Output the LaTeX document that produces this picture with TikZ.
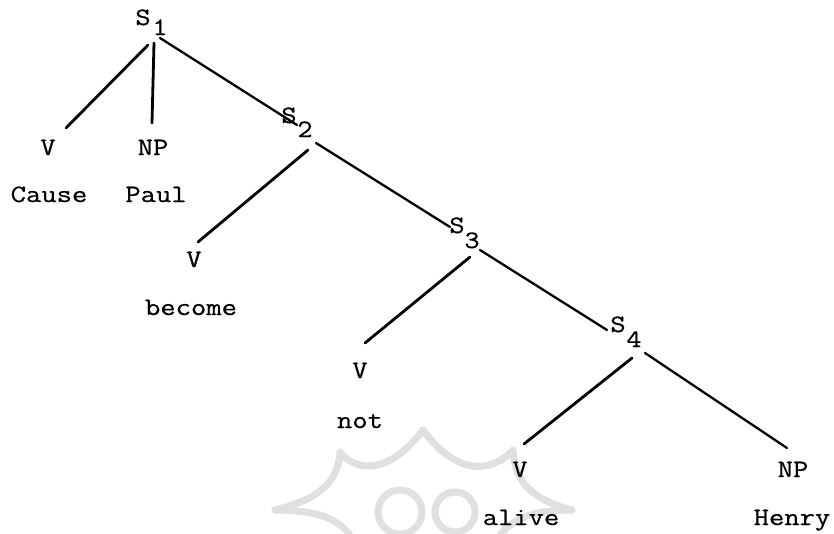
\documentclass[tikz,border=0pt]{standalone}
\usepackage{fontspec}
\newfontfamily\tw{Latin Modern Mono}[FakeStretch=1.19,FakeBold=0.6]
\begin{document}
\begin{tikzpicture}[x=1pt,y=-1pt,
  lab/.style={anchor=base,inner sep=0pt,font=\tw\fontsize{25}{25}\selectfont},
  edge/.style={line width=2.8pt,line cap=round},
  redge/.style={line width=2.3pt,line cap=round},
  wm/.style={draw=black!12,line width=7pt,line cap=round}]
\useasboundingbox[fill=white] (0,0) rectangle (834,533);
% faint watermark
\begin{scope}
\clip (0,0) rectangle (834,533);
\draw[wm] (340,452) .. controls (352,468) and (385,480) .. (423,430);
\draw[wm] (423,430) .. controls (460,480) and (495,470) .. (513,450);
\draw[wm] (340,452) .. controls (338,485) and (315,500) .. (275,510);
\draw[wm] (513,450) .. controls (515,485) and (535,500) .. (572,510);
\draw[wm] (275,510) .. controls (320,510) and (345,520) .. (355,545);
\draw[wm] (572,510) .. controls (530,510) and (505,520) .. (495,545);
\draw[wm] (400,512) circle (22);
\draw[wm] (455,512) circle (20);
\end{scope}
% labels
\node[lab] (s1) at (143,25) {S};
\node[lab] (s1i) at (160,35) {1};
\node[lab] (s2) at (289,123) {S};
\node[lab] (s2i) at (305,137) {2};
\node[lab] (s3) at (457,233) {S};
\node[lab] (s3i) at (472,248) {3};
\node[lab] (s4) at (618,332) {S};
\node[lab] (s4i) at (634,347) {4};
\node[lab] (v1) at (48,155) {V};
\node[lab] (np1) at (153,155) {NP};
\node[lab] (w1) at (49,202) {Cause};
\node[lab] (w2) at (156,202) {Paul};
\node[lab] (v2) at (194,267) {V};
\node[lab] (w3) at (191,315) {become};
\node[lab] (v3) at (360,378) {V};
\node[lab] (w4) at (360,428) {not};
\node[lab] (v4) at (520,477) {V};
\node[lab] (w5) at (521,525) {alive};
\node[lab] (np4) at (793,477) {NP};
\node[lab] (w6) at (792,525) {Henry};
% connector ends
\coordinate (s1l) at (148,45);
\coordinate (s1m) at (154,43);
\coordinate (s1r) at (160,38);
\coordinate (v1t) at (66,128);
\coordinate (np1t) at (152,123);
\coordinate (s2t) at (297,125);
\coordinate (s2l) at (308,150);
\coordinate (s2r) at (316,143);
\coordinate (v2t) at (198,242);
\coordinate (s3t) at (450,227);
\coordinate (s3l) at (470,257);
\coordinate (s3r) at (480,250);
\coordinate (v3t) at (365,343);
\coordinate (s4t) at (607,330);
\coordinate (s4l) at (632,358);
\coordinate (s4r) at (645,353);
\coordinate (v4t) at (524,444);
\coordinate (np4t) at (787,448);
\draw[edge] (s1l) -- (v1t);
\draw[edge] (s1m) -- (np1t);
\draw[redge] (s1r) -- (s2t);
\draw[edge] (s2l) -- (v2t);
\draw[redge] (s2r) -- (s3t);
\draw[edge] (s3l) -- (v3t);
\draw[redge] (s3r) -- (s4t);
\draw[edge] (s4l) -- (v4t);
\draw[redge] (s4r) -- (np4t);
\end{tikzpicture}
\end{document}
